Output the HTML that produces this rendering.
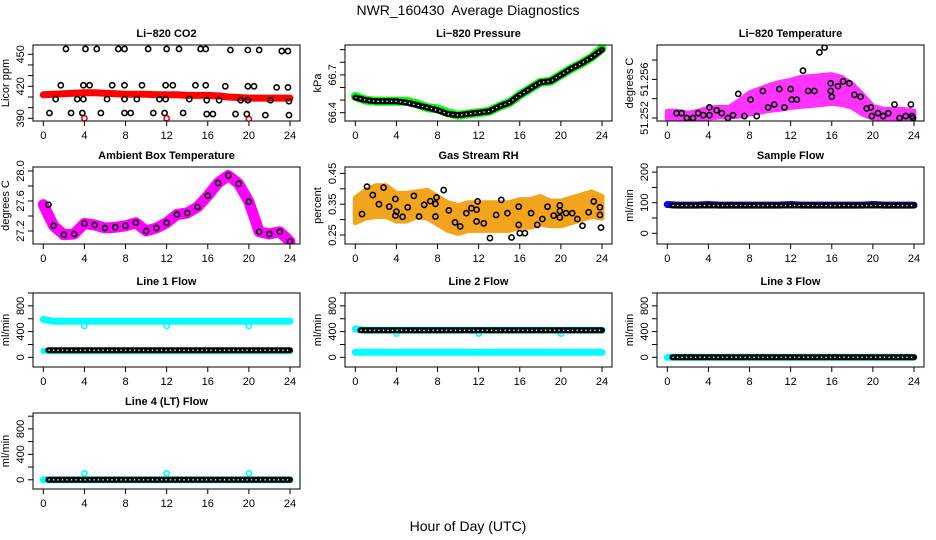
<!DOCTYPE html>
<html><head><meta charset="utf-8">
<style>
html,body{margin:0;padding:0;background:#fff;}
svg{display:block;font-family:"Liberation Sans",sans-serif;}
</style></head>
<body>
<svg id="fig" width="936" height="540" viewBox="0 0 936 540">
<text x="468" y="15" text-anchor="middle" font-size="14" style="white-space:pre">NWR_160430&#160; Average Diagnostics</text>
<text x="468" y="531" text-anchor="middle" font-size="14">Hour of Day (UTC)</text>
</svg>
<script>
// ---------- data ----------
const hourTicks = [0,4,8,12,16,20,24];
const hours = [0,1,2,3,4,5,6,7,8,9,10,11,12,13,14,15,16,17,18,19,20,21,22,23,24];

// CO2
const co2BlackHours = [2.2,4.1,5.2,7.3,7.9,10.2,12.0,13.2,15.3,15.8,18.2,19.9,21.0,23.2,23.8,
 1.7,3.9,4.5,6.7,7.9,9.6,11.9,12.6,14.8,15.8,17.7,19.9,20.5,22.7,23.8,
 1.2,3.3,3.9,6.2,7.9,9.1,11.3,11.9,14.2,15.9,17.1,19.2,19.9,22.1,23.9,
 0.6,2.7,3.8,5.6,7.9,8.5,10.7,11.8,13.6,15.9,16.5,18.7,19.8,21.6,23.9];
const co2BlackValues = [455,455,455,455,455,455,455,455,455,455,454,454,454,453,453,
 421,421,421,421,421,421,421,421,421,421,420,420,420,419,419,
 408,408,408,408,408,408,408,408,408,407,407,407,407,407,406,
 395,395,395,395,395,395,395,395,395,394,394,394,394,393,393];
const co2Red = [412,412.5,413,413.5,414,414,413.5,413,412.5,412.5,412.5,412,412,412,411.5,411.5,411.5,411,410,409.5,409,409,409,409,409];
const co2RedOutHours = [4,12,20];
const co2RedOutValues = [390,390,389.5];

// Pressure
const pressGreen = [66.53,66.50,66.49,66.49,66.49,66.49,66.47,66.44,66.43,66.40,66.38,66.39,66.40,66.41,66.45,66.48,66.54,66.59,66.64,66.65,66.70,66.75,66.79,66.84,66.91];
const pressBlack = [66.52,66.50,66.49,66.49,66.49,66.48,66.46,66.44,66.42,66.39,66.38,66.39,66.40,66.41,66.45,66.48,66.54,66.59,66.64,66.65,66.70,66.75,66.79,66.84,66.90];

// Li-820 temperature
const tempCenter = [51.2523,51.2523,51.2522,51.2523,51.2525,51.2526,51.2526,51.2530,51.2535,51.2538,51.2541,51.2543,51.2545,51.2547,51.2548,51.2549,51.2550,51.2548,51.2543,51.2534,51.2526,51.2524,51.2524,51.2524,51.2523];
const tempSpread = [0.0004,0.0004,0.0003,0.0004,0.0005,0.0005,0.0005,0.0008,0.0011,0.0012,0.0013,0.0014,0.0014,0.0015,0.0015,0.0015,0.0015,0.0014,0.0012,0.0010,0.0006,0.0005,0.0005,0.0005,0.0004];
const tempBlackHours = [0.9,1.4,1.9,2.5,3.0,3.5,4.1,4.1,4.8,5.3,5.9,6.4,6.9,7.5,8.1,8.7,9.3,9.8,10.4,10.9,11.4,12.0,12.1,12.6,13.2,13.7,14.3,14.8,15.3,15.9,15.9,16.0,16.6,17.1,17.7,18.2,18.8,19.4,19.8,19.9,20.5,21.0,21.5,22.1,22.6,23.2,23.7,23.8,23.9];
const tempBlackValues = [51.2525,51.2525,51.2520,51.2520,51.2525,51.2523,51.2531,51.2523,51.2528,51.2525,51.2520,51.2523,51.2545,51.2522,51.2539,51.2522,51.2548,51.2531,51.2534,51.2550,51.2531,51.2550,51.2539,51.2539,51.2569,51.2548,51.2548,51.2588,51.2593,51.2556,51.2548,51.2542,51.2553,51.2558,51.2556,51.2544,51.2542,51.2530,51.2531,51.2522,51.2525,51.2522,51.2525,51.2534,51.2520,51.2522,51.2534,51.2522,51.2520];

// Ambient box temperature
const ambient = [27.55,27.27,27.15,27.16,27.30,27.28,27.24,27.25,27.27,27.31,27.20,27.24,27.31,27.42,27.44,27.52,27.67,27.84,27.94,27.83,27.59,27.19,27.16,27.19,27.06];

// Gas stream RH
const rhCenter = [0.33,0.35,0.36,0.36,0.34,0.34,0.35,0.35,0.33,0.31,0.30,0.31,0.31,0.31,0.31,0.31,0.32,0.32,0.33,0.32,0.32,0.33,0.34,0.35,0.34];
const rhSpread = [0.04,0.045,0.05,0.05,0.045,0.045,0.04,0.045,0.045,0.045,0.045,0.045,0.045,0.045,0.045,0.045,0.045,0.045,0.045,0.04,0.04,0.04,0.04,0.04,0.035];
const rhBlackHours = [0.65,1.14,1.7,2.3,2.75,3.3,3.9,3.9,4.0,4.6,5.1,5.7,6.2,6.7,7.3,7.8,7.9,7.8,8.6,9.1,9.7,10.2,10.8,11.3,11.8,11.9,11.8,12.5,13.1,13.7,14.2,14.8,15.2,15.9,15.9,16.0,16.5,17.1,17.7,18.2,18.7,19.3,19.9,19.9,19.9,20.5,21.1,21.6,22.1,22.7,23.2,23.8,23.8,23.9];
const rhBlackValues = [0.318,0.407,0.38,0.35,0.404,0.342,0.367,0.313,0.326,0.309,0.34,0.377,0.31,0.348,0.36,0.351,0.372,0.31,0.396,0.33,0.291,0.278,0.321,0.337,0.332,0.359,0.294,0.288,0.24,0.315,0.364,0.321,0.242,0.342,0.283,0.256,0.256,0.321,0.283,0.302,0.342,0.313,0.346,0.328,0.307,0.321,0.321,0.302,0.28,0.324,0.359,0.315,0.34,0.274];

// Flows
const sampleBlue  = [94,92,92,92,94,92,92,92,92,92,92,92,94,92,92,92,92,92,92,92,94,92,92,92,92];
const sampleBlack = [91,91,91,91,91,91,91,91,91,91,91,91,91,91,91,91,91,91,91,91,91,91,91,91,91];
const line1CyanHi = [590,560,560,560,560,560,560,560,560,560,560,560,560,560,560,560,560,560,560,560,560,560,560,560,560];
const line1CyanLo = [100,95,95,95,95,95,95,95,95,95,95,95,95,95,95,95,95,95,95,95,95,95,95,95,95];
const line1Black  = [110,110,110,110,110,110,110,110,110,110,110,110,110,110,110,110,110,110,110,110,110,110,110,110,110];
const line1Dips   = [490,490,490];
const line2CyanHi = [440,420,420,420,420,420,420,420,420,420,420,420,420,420,420,420,420,420,420,420,420,420,420,420,420];
const line2CyanLo = [80,80,80,80,80,80,80,80,80,80,80,80,80,80,80,80,80,80,80,80,80,80,80,80,80];
const line2Black  = [420,420,420,420,420,420,420,420,420,420,420,420,420,420,420,420,420,420,420,420,420,420,420,420,420];
const line2Dips   = [370,370,370];
const line3Cyan   = [0,0,0,0,0,0,0,0,0,0,0,0,0,0,0,0,0,0,0,0,0,0,0,0,0];
const line3Black  = [0,0,0,0,0,0,0,0,0,0,0,0,0,0,0,0,0,0,0,0,0,0,0,0,0];
const line4Cyan   = [0,0,0,0,0,0,0,0,0,0,0,0,0,0,0,0,0,0,0,0,0,0,0,0,0];
const line4Black  = [0,0,0,0,0,0,0,0,0,0,0,0,0,0,0,0,0,0,0,0,0,0,0,0,0];
const line4Spikes = [100,100,100];
const spikeHours  = [4,12,20];

// ---------- drawing ----------
const NS = 'http://www.w3.org/2000/svg';
const svg = document.getElementById('fig');
const colLeft = [33,345,657];
const rowBox = [[45,121],[167,244],[293,367],[413,489]];
let clipN = 0;
function mk(tag, parent){ const e=document.createElementNS(NS,tag); parent.appendChild(e); return e; }

function panel(name,col,row,title,ylab,ymin,ymax,ticks,labels,dec){
  const L=colLeft[col], R=L+267, T=rowBox[row][0], B=rowBox[row][1];
  const g=mk('g',svg);
  
  
  const x=h=>L+10.3+h*(246.7/24);
  const y=v=>B-(v-ymin)/(ymax-ymin)*(B-T);
  const t=mk('text',g); t.textContent=title;
  t.setAttribute('x',(L+R)/2); t.setAttribute('y',T-8); t.setAttribute('text-anchor','middle');
  t.setAttribute('font-size','11'); t.setAttribute('font-weight','bold');
  
  
  const cid='clip'+(clipN++);
  const cp=mk('clipPath',g); cp.setAttribute('id',cid);
  const cr=mk('rect',cp); cr.setAttribute('x',L); cr.setAttribute('y',T); cr.setAttribute('width',R-L); cr.setAttribute('height',B-T);
  const plot=mk('g',g); plot.setAttribute('clip-path','url(#'+cid+')');
  
  
  const bx=mk('rect',g); bx.setAttribute('x',L); bx.setAttribute('y',T); bx.setAttribute('width',R-L); bx.setAttribute('height',B-T);
  bx.setAttribute('fill','none'); bx.setAttribute('stroke','#000'); bx.setAttribute('stroke-width','1');
  
  
  const xa=mk('g',g);
  
  
  hourTicks.forEach(h=>{
    const ln=mk('line',xa); ln.setAttribute('x1',x(h)); ln.setAttribute('x2',x(h)); ln.setAttribute('y1',B); ln.setAttribute('y2',B+5); ln.setAttribute('stroke','#000');
    const tx=mk('text',xa); tx.textContent=h; tx.setAttribute('x',x(h)); tx.setAttribute('y',B+18); tx.setAttribute('text-anchor','middle'); tx.setAttribute('font-size','11');
  });
  const ya=mk('g',g);
  
  
  ticks.forEach(v=>{
    const ln=mk('line',ya); ln.setAttribute('x1',L-5); ln.setAttribute('x2',L); ln.setAttribute('y1',y(v)); ln.setAttribute('y2',y(v)); ln.setAttribute('stroke','#000');
  });
  labels.forEach(v=>{
    const tx=mk('text',ya); tx.textContent=v.toFixed(dec); const cx=L-9, cy=y(v);
    tx.setAttribute('x',cx); tx.setAttribute('y',cy); tx.setAttribute('text-anchor','middle'); tx.setAttribute('font-size','11');
    tx.setAttribute('transform','rotate(-90 '+cx+' '+cy+')');
  });
  const yl=mk('text',g); yl.textContent=ylab; const lx=L-24, ly=(T+B)/2;
  yl.setAttribute('x',lx); yl.setAttribute('y',ly); yl.setAttribute('text-anchor','middle'); yl.setAttribute('font-size','11');
  yl.setAttribute('transform','rotate(-90 '+lx+' '+ly+')');
  
  
  return {plot,x,y,name};
}

function pts(p,hs,vs){ return hs.map((h,i)=>p.x(h).toFixed(1)+','+p.y(vs[i]).toFixed(1)).join(' '); }

function thickLine(p,hs,vs,color,w,nm){
  const pl=mk('polyline',p.plot); pl.setAttribute('points',pts(p,hs,vs));
  pl.setAttribute('fill','none'); pl.setAttribute('stroke',color); pl.setAttribute('stroke-width',w);
  pl.setAttribute('stroke-linejoin','round'); pl.setAttribute('stroke-linecap','round');
  
  
  return pl;
}
function chain(p,hs,vs,nm){
  thickLine(p,hs,vs,'#000',6,nm);
  const pl=mk('polyline',p.plot); pl.setAttribute('points',pts(p,hs,vs));
  pl.setAttribute('fill','none'); pl.setAttribute('stroke','#fff'); pl.setAttribute('stroke-width','1.3');
  pl.setAttribute('stroke-dasharray','1.3 3.2');
}
function circles(p,hs,vs,color,nm){
  hs.forEach((h,i)=>{
    const c=mk('circle',p.plot); c.setAttribute('cx',p.x(h)); c.setAttribute('cy',p.y(vs[i])); c.setAttribute('r','2.6');
    c.setAttribute('fill','none'); c.setAttribute('stroke',color); c.setAttribute('stroke-width','1.6');
    
    
  });
}
function band(p,hs,center,spread,color,nm){
  const up=hs.map((h,i)=>p.x(h).toFixed(1)+','+p.y(center[i]+spread[i]).toFixed(1));
  const dn=hs.map((h,i)=>p.x(h).toFixed(1)+','+p.y(center[i]-spread[i]).toFixed(1)).reverse();
  const pg=mk('polygon',p.plot); pg.setAttribute('points',up.concat(dn).join(' '));
  pg.setAttribute('fill',color); pg.setAttribute('stroke',color); pg.setAttribute('stroke-width','5'); pg.setAttribute('stroke-linejoin','round');
  
  
}
const shifted = hours.map(h=>h===0?0.5:h);

const p1=panel('co2',0,0,'Li\u2212820 CO2','Licor ppm',387.5,458.7,[390,400,410,420,430,440,450],[390,420,450],0);
thickLine(p1,hours,co2Red,'#ff0000',7,'co2-red-series');
circles(p1,co2RedOutHours,co2RedOutValues,'#ff0000','co2-red-outlier');
circles(p1,co2BlackHours,co2BlackValues,'#000','co2-black-point');

const p2=panel('pressure',1,0,'Li\u2212820 Pressure','kPa',66.334,66.937,[66.4,66.5,66.6,66.7,66.8,66.9],[66.4,66.7],1);
thickLine(p2,hours,pressGreen,'#00ff00',9,'pressure-green-series');
chain(p2,hours,pressBlack,'pressure-black-series');

const p3=panel('li820-temp',2,0,'Li\u2212820 Temperature','degrees C',51.25169,51.25956,[51.252,51.254,51.256,51.258],[51.252,51.256],3);
band(p3,hours,tempCenter,tempSpread,'#ff33ff','li820-temp-magenta-cloud');
circles(p3,tempBlackHours,tempBlackValues,'#000','li820-temp-black-point');

const p4=panel('ambient-temp',0,1,'Ambient Box Temperature','degrees C',27.027,28.053,[27.2,27.4,27.6,27.8,28.0],[27.2,27.6,28.0],1);
thickLine(p4,hours,ambient,'#ff00ff',11,'ambient-magenta-series');
circles(p4,shifted,ambient,'#000','ambient-black-point');

const p5=panel('gas-rh',1,1,'Gas Stream RH','percent',0.2208,0.4708,[0.25,0.30,0.35,0.40,0.45],[0.25,0.35,0.45],2);
band(p5,hours,rhCenter,rhSpread,'#f2a41c','gas-rh-orange-cloud');
circles(p5,rhBlackHours,rhBlackValues,'#000','gas-rh-black-point');

const p6=panel('sample-flow',2,1,'Sample Flow','ml/min',-35,216.7,[0,50,100,150,200],[0,100,200],0);
thickLine(p6,hours,sampleBlue,'#0000ff',7,'sample-flow-blue-series');
chain(p6,shifted,sampleBlack,'sample-flow-black-series');

const p7=panel('line1-flow',0,2,'Line 1 Flow','ml/min',-150,1000,[0,200,400,600,800,1000],[0,400,800],0);
thickLine(p7,hours,line1CyanHi,'#00ffff',7,'line1-cyan-high');
circles(p7,spikeHours,line1Dips,'#00ffff','line1-cyan-dip');
thickLine(p7,hours,line1CyanLo,'#00ffff',6,'line1-cyan-low');
chain(p7,shifted,line1Black,'line1-black-series');

const p8=panel('line2-flow',1,2,'Line 2 Flow','ml/min',-150,1000,[0,200,400,600,800,1000],[0,400,800],0);
thickLine(p8,hours,line2CyanLo,'#00ffff',7,'line2-cyan-low');
thickLine(p8,hours,line2CyanHi,'#00ffff',7,'line2-cyan-high');
circles(p8,spikeHours,line2Dips,'#00ffff','line2-cyan-dip');
chain(p8,shifted,line2Black,'line2-black-series');

const p9=panel('line3-flow',2,2,'Line 3 Flow','ml/min',-150,1000,[0,200,400,600,800,1000],[0,400,800],0);
thickLine(p9,hours,line3Cyan,'#00ffff',7,'line3-cyan-series');
chain(p9,shifted,line3Black,'line3-black-series');

const p10=panel('line4-flow',0,3,'Line 4 (LT) Flow','ml/min',-145,1050,[0,200,400,600,800,1000],[0,400,800],0);
thickLine(p10,hours,line4Cyan,'#00ffff',7,'line4-cyan-series');
circles(p10,spikeHours,line4Spikes,'#00ffff','line4-cyan-spike');
chain(p10,shifted,line4Black,'line4-black-series');
</script>
</body></html>
